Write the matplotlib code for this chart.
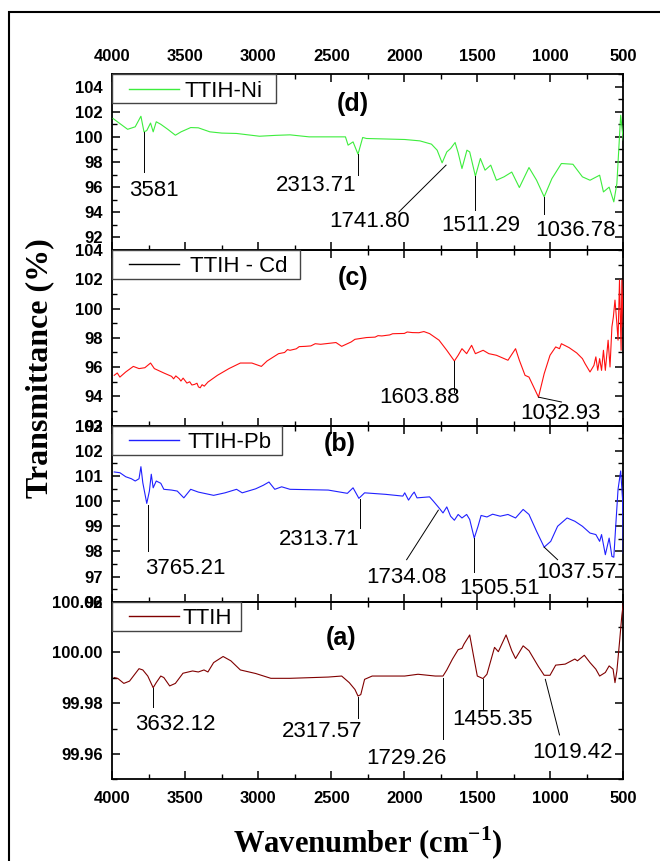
import matplotlib
matplotlib.use("Agg")
import matplotlib.pyplot as plt
from matplotlib.patches import Rectangle
from matplotlib.lines import Line2D
from matplotlib.ticker import MultipleLocator

plt.rcParams["font.family"] = ["Liberation Sans", "DejaVu Sans"]
plt.rcParams["mathtext.fontset"] = "custom"
plt.rcParams["mathtext.rm"] = "Liberation Serif"
plt.rcParams["mathtext.bf"] = "Liberation Serif:bold"

# ---- FTIR spectra: (wavenumber cm-1, transmittance %) ----
TTIH_NI = [
    (3995, 101.46), (3895, 100.60), (3843, 100.80), (3804, 101.64), (3783, 100.40),
    (3764, 100.50), (3738, 101.10), (3720, 100.40), (3699, 101.20), (3668, 101.00),
    (3620, 100.60), (3568, 100.13), (3529, 100.40), (3463, 100.74), (3411, 100.72),
    (3332, 100.40), (3250, 100.30), (3149, 100.27), (2992, 100.05), (2880, 100.12),
    (2783, 100.16), (2652, 100.00), (2403, 100.00), (2385, 99.34), (2351, 99.60),
    (2317, 98.62), (2285, 99.95), (2259, 99.87), (1997, 99.79), (1893, 99.68),
    (1814, 99.42), (1775, 98.94), (1741, 97.93), (1709, 98.80), (1683, 99.07),
    (1652, 99.55), (1631, 98.73), (1605, 97.48), (1571, 98.94), (1552, 98.80),
    (1513, 96.87), (1479, 98.28), (1447, 97.35), (1408, 97.75), (1369, 96.55),
    (1317, 96.82), (1264, 97.20), (1212, 95.97), (1146, 97.56), (1094, 96.55),
    (1042, 95.23), (989, 96.68), (924, 97.88), (845, 97.82), (780, 96.82),
    (728, 96.55), (662, 96.95), (636, 95.62), (597, 96.00), (565, 94.83),
    (544, 96.29), (518, 101.72), (500, 99.73),
]

TTIH_CD = [
    (3987, 95.44), (3966, 95.60), (3948, 95.32), (3908, 95.67), (3856, 96.05),
    (3817, 95.90), (3777, 95.96), (3738, 96.28), (3712, 95.90), (3647, 95.60),
    (3594, 95.37), (3580, 95.20), (3565, 95.40), (3542, 95.21), (3530, 95.05),
    (3515, 95.25), (3489, 94.91), (3470, 95.00), (3455, 94.78), (3437, 94.82),
    (3420, 94.90), (3410, 94.65), (3398, 94.59), (3385, 94.80), (3370, 94.70),
    (3345, 94.98), (3280, 95.44), (3201, 95.90), (3123, 96.28), (3044, 96.28),
    (2979, 96.05), (2940, 96.42), (2861, 96.92), (2820, 97.00), (2800, 97.20),
    (2783, 97.15), (2740, 97.25), (2720, 97.40), (2678, 97.42), (2640, 97.45),
    (2610, 97.60), (2573, 97.56), (2468, 97.68), (2429, 97.42), (2364, 97.72),
    (2338, 97.90), (2259, 98.02), (2200, 98.05), (2180, 98.15), (2154, 98.13),
    (2100, 98.20), (2080, 98.28), (2050, 98.29), (2000, 98.30), (1980, 98.40),
    (1945, 98.36), (1900, 98.35), (1866, 98.43), (1827, 98.29), (1762, 97.84),
    (1709, 97.15), (1657, 96.42), (1631, 96.81), (1605, 97.26), (1573, 96.92),
    (1539, 97.49), (1513, 96.92), (1460, 97.15), (1421, 96.92), (1369, 96.81),
    (1290, 96.47), (1238, 97.26), (1212, 96.47), (1173, 95.44), (1146, 95.32),
    (1081, 93.95), (1042, 95.55), (1002, 96.81), (963, 97.38), (937, 97.26),
    (924, 97.60), (871, 97.33), (819, 96.97), (780, 96.58), (762, 96.24),
    (728, 95.67), (701, 96.12), (688, 96.70), (675, 95.78), (662, 96.58),
    (649, 95.78), (636, 97.15), (623, 95.78), (604, 97.84), (591, 96.01),
    (578, 98.75), (568, 99.43), (557, 100.58), (544, 98.98), (536, 97.84),
    (526, 101.95), (515, 97.15), (510, 101.95), (500, 98.75),
]

TTIH_PB = [
    (3987, 101.16), (3948, 101.13), (3908, 100.97), (3869, 100.89), (3843, 100.80),
    (3817, 100.89), (3804, 101.37), (3791, 100.73), (3764, 99.91), (3746, 100.40),
    (3733, 101.07), (3720, 100.53), (3699, 100.80), (3668, 100.71), (3647, 100.47),
    (3594, 100.44), (3555, 100.40), (3510, 100.13), (3463, 100.47), (3411, 100.36),
    (3306, 100.23), (3228, 100.33), (3149, 100.47), (3110, 100.33), (3018, 100.49),
    (2966, 100.63), (2927, 100.76), (2887, 100.47), (2840, 100.57), (2783, 100.47),
    (2521, 100.44), (2390, 100.31), (2351, 100.53), (2311, 100.11), (2272, 100.33),
    (2128, 100.27), (2010, 100.20), (1997, 100.33), (1971, 100.04), (1945, 100.27),
    (1932, 100.36), (1913, 100.13), (1827, 100.17), (1801, 100.00), (1762, 99.73),
    (1735, 99.53), (1709, 99.77), (1683, 99.40), (1657, 99.24), (1631, 99.47),
    (1605, 99.33), (1573, 99.47), (1552, 99.27), (1521, 98.53), (1495, 99.00),
    (1474, 99.43), (1434, 99.37), (1395, 99.48), (1343, 99.40), (1290, 99.47),
    (1238, 99.33), (1186, 99.67), (1146, 99.47), (1094, 98.80), (1042, 98.17),
    (997, 98.40), (950, 99.00), (885, 99.33), (832, 99.20), (780, 99.00),
    (728, 98.73), (688, 98.67), (662, 98.40), (649, 98.67), (623, 97.87),
    (597, 98.53), (578, 97.80), (565, 97.77), (552, 99.00), (536, 100.47),
    (518, 101.20), (505, 100.07), (500, 97.93),
]

TTIH = [
    (3987, 99.9901), (3961, 99.9897), (3921, 99.9878), (3882, 99.9887), (3817, 99.9936),
    (3791, 99.9931), (3757, 99.9907), (3720, 99.9861), (3699, 99.9881), (3668, 99.9907),
    (3647, 99.9901), (3607, 99.9868), (3568, 99.9878), (3516, 99.9918), (3450, 99.9927),
    (3411, 99.9923), (3372, 99.9931), (3345, 99.9923), (3306, 99.9960), (3241, 99.9984),
    (3188, 99.9967), (3123, 99.9931), (3018, 99.9917), (2914, 99.9898), (2783, 99.9898),
    (2521, 99.9903), (2429, 99.9907), (2377, 99.9881), (2338, 99.9854), (2317, 99.9828),
    (2298, 99.9834), (2272, 99.9894), (2220, 99.9907), (1997, 99.9907), (1906, 99.9914),
    (1788, 99.9907), (1735, 99.9907), (1709, 99.9931), (1670, 99.9974), (1631, 100.0011),
    (1605, 100.0016), (1591, 100.0033), (1552, 100.0069), (1526, 99.9987), (1500, 99.9907),
    (1461, 99.9897), (1434, 99.9914), (1408, 99.9967), (1382, 100.0020), (1356, 100.0003),
    (1303, 100.0069), (1264, 100.0007), (1238, 99.9976), (1186, 100.0026), (1146, 100.0007),
    (1081, 99.9944), (1042, 99.9910), (1002, 99.9910), (963, 99.9950), (898, 99.9954),
    (832, 99.9974), (814, 99.9967), (767, 99.9989), (728, 99.9960), (688, 99.9934),
    (662, 99.9907), (623, 99.9921), (597, 99.9947), (570, 99.9934), (557, 99.9881),
    (544, 99.9927), (526, 100.0040), (510, 100.0146), (500, 100.0192),
]

# ---- peak annotations: text, leader start, leader end, text centre ----
NI_PEAKS = [
    ("3581", (3783, 100.40), (3783, 97.20), (3712, 95.76)),
    ("2313.71", (2317, 98.62), (2317, 96.95), (2605, 96.15)),
    ("1741.80", (1714, 97.75), (2037, 94.03), (2238, 93.24)),
    ("1511.29", (1513, 96.87), (1513, 94.16), (1474, 92.97)),
    ("1036.78", (1042, 95.23), (1042, 93.90), (825, 92.57)),
]
CD_PEAKS = [
    ("1603.88", (1657, 96.42), (1657, 94.30), (1893, 93.95)),
    ("1032.93", (1081, 93.95), (924, 93.62), (929, 92.86)),
]
PB_PEAKS = [
    ("3765.21", (3757, 99.83), (3757, 98.00), (3503, 97.33)),
    ("2313.71", (2306, 100.07), (2306, 98.93), (2586, 98.47)),
    ("1734.08", (1767, 99.64), (1984, 97.67), (1984, 96.97)),
    ("1505.51", (1521, 98.53), (1521, 97.20), (1348, 96.52)),
    ("1037.57", (1042, 98.17), (950, 97.67), (819, 97.16)),
]
TTIH_PEAKS = [
    ("3632.12", (3720, 99.9861), (3720, 99.9785), (3568, 99.9715)),
    ("2317.57", (2317, 99.9825), (2317, 99.9742), (2560, 99.9689)),
    ("1729.26", (1735, 99.9901), (1735, 99.9658), (1984, 99.9583)),
    ("1455.35", (1461, 99.9894), (1461, 99.9775), (1395, 99.9735)),
    ("1019.42", (1034, 99.9894), (937, 99.9675), (851, 99.9605)),
]

X_TICKS = [4000, 3500, 3000, 2500, 2000, 1500, 1000, 500]
Y_TICKS_NI = [92, 94, 96, 98, 100, 102, 104]
Y_TICKS_CD = [92, 94, 96, 98, 100, 102, 104]
Y_TICKS_PB = [96, 97, 98, 99, 100, 101, 102, 103]
Y_TICKS_TTIH = [99.96, 99.98, 100.00, 100.02]

W, H = 660, 861
fig = plt.figure(figsize=(W / 100, H / 100), dpi=100)

AX_LEFT, AX_RIGHT = 112.3, 623.3


def add_panel(top_px, bottom_px):
    return fig.add_axes([AX_LEFT / W, 1 - bottom_px / H,
                         (AX_RIGHT - AX_LEFT) / W, (bottom_px - top_px) / H])


def legend_box(ax, label, color, right, text_x):
    ax.add_patch(Rectangle((0, 0.835), right, 0.165, transform=ax.transAxes,
                           facecolor="white", edgecolor="#444444", lw=1.0,
                           zorder=5, clip_on=False))
    ax.add_line(Line2D([0.033, 0.131], [0.9175, 0.9175], transform=ax.transAxes,
                       color=color, lw=1.0, zorder=6))
    ax.text(text_x, 0.9175, label, transform=ax.transAxes, ha="left",
            va="center_baseline", fontsize=16, zorder=6)


def annotate(ax, peaks):
    for text, (x0, y0), (x1, y1), (tx, ty) in peaks:
        ax.plot([x0, x1], [y0, y1], color="black", lw=0.7, zorder=4)
        ax.text(tx, ty, text, ha="center", va="center", fontsize=16, zorder=4)


panels = [
    dict(data=TTIH_NI, color="#3ded3d", label="TTIH-Ni", lcolor="#3ded3d",
         top=74.0, bottom=250.0, ylim=(91, 105), yticks=Y_TICKS_NI, fmt="{:.0f}",
         minor=1, tag="(d)", tag_xy=(2350, 102.65), peaks=NI_PEAKS,
         box=0.320, text_x=0.142),
    dict(data=TTIH_CD, color="#ff1010", label="TTIH - Cd", lcolor="black",
         top=250.0, bottom=425.7, ylim=(92, 104), yticks=Y_TICKS_CD, fmt="{:.0f}",
         minor=1, tag="(c)", tag_xy=(2350, 102.06), peaks=CD_PEAKS,
         box=0.367, text_x=0.152),
    dict(data=TTIH_PB, color="#2020ff", label="TTIH-Pb", lcolor="#2020ff",
         top=425.7, bottom=601.7, ylim=(96, 103), yticks=Y_TICKS_PB, fmt="{:.0f}",
         minor=0.5, tag="(b)", tag_xy=(2440, 102.27), peaks=PB_PEAKS,
         box=0.333, text_x=0.148),
    dict(data=TTIH, color="#800000", label="TTIH", lcolor="#800000",
         top=601.7, bottom=779.3, ylim=(99.95, 100.02), yticks=Y_TICKS_TTIH,
         fmt="{:.2f}", minor=0.01, tag="(a)", tag_xy=(2435, 100.0056),
         peaks=TTIH_PEAKS, box=0.251, text_x=0.137),
]

for i, p in enumerate(panels):
    ax = add_panel(p["top"], p["bottom"])
    ax.set_facecolor("none")
    wn, tr = zip(*p["data"])
    ax.plot(wn, tr, color=p["color"], lw=0.8, zorder=3)
    ax.set_xlim(4000, 500)
    ax.set_ylim(*p["ylim"])

    ax.set_yticks(p["yticks"], [p["fmt"].format(v) for v in p["yticks"]],
                  fontsize=12, fontweight="bold")
    ax.yaxis.set_minor_locator(MultipleLocator(p["minor"]))
    ax.set_xticks(X_TICKS, [str(v) for v in X_TICKS], fontsize=12,
                  fontweight="bold")
    ax.xaxis.set_minor_locator(MultipleLocator(250))

    ax.tick_params(which="both", direction="in", top=True, right=True)
    ax.tick_params(which="major", length=6, width=1.1)
    ax.tick_params(which="minor", length=3.5, width=1.0)
    ax.tick_params(axis="y", pad=7)
    if i == 0:
        ax.tick_params(axis="x", labeltop=True, labelbottom=False, pad=7.2)
    elif i == len(panels) - 1:
        ax.tick_params(axis="x", labeltop=False, labelbottom=True, pad=8.6)
    else:
        ax.tick_params(axis="x", labeltop=False, labelbottom=False)
    for s in ax.spines.values():
        s.set_linewidth(1.3)

    legend_box(ax, p["label"], p["lcolor"], p["box"], p["text_x"])
    annotate(ax, p["peaks"])
    ax.text(*p["tag_xy"], p["tag"], ha="center", va="center", fontsize=18,
            fontweight="bold", zorder=4)

# axis titles
fig.text(40 / W, 1 - 368 / H, "Transmittance (%)", rotation=90, ha="center",
         va="center", family="Liberation Serif", weight="bold", size=23)
fig.text(368 / W, 1 - 843 / H, r"Wavenumber (cm$^{\mathbf{-1}}$)", ha="center",
         va="center", family="Liberation Serif", weight="bold", size=22)

# outer frame
fig.add_artist(Rectangle((9 / W, -0.05), 1.2, 1 - 12 / H + 0.05,
                         transform=fig.transFigure, fill=False, lw=1.5,
                         edgecolor="black", clip_on=False))

fig.savefig("out.png", dpi=100)
